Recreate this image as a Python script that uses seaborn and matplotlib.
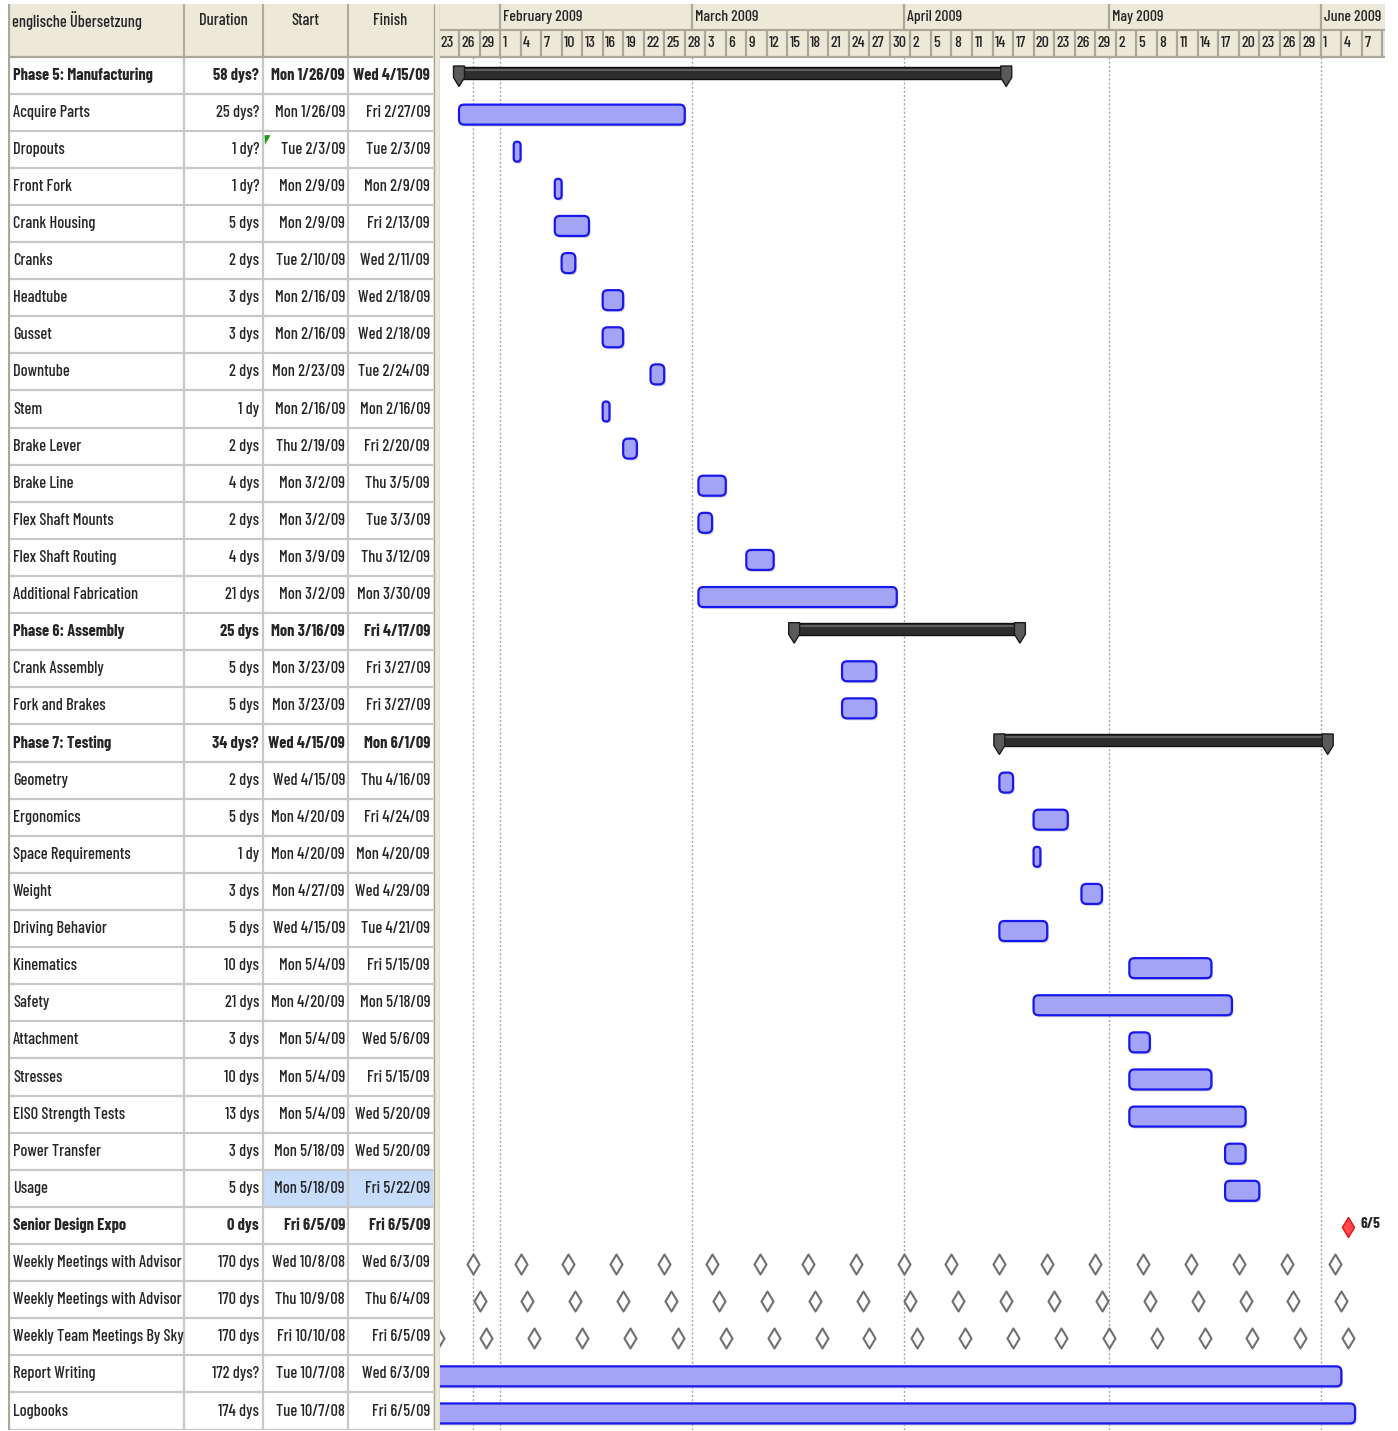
import matplotlib
matplotlib.use("Agg")
import numpy as np
import pandas as pd
import matplotlib.pyplot as plt
import matplotlib.dates as mdates
from matplotlib.patches import FancyBboxPatch, Rectangle, Polygon
import seaborn as sns

sns.set_theme(style="white")
plt.rcParams["font.family"] = ["Barlow Condensed", "Roboto Condensed", "DejaVu Sans"]

# ---------------- schedule data ----------------
task_names = [
    "Phase 5: Manufacturing", "Acquire Parts", "Dropouts", "Front Fork", "Crank Housing",
    "Cranks", "Headtube", "Gusset", "Downtube", "Stem", "Brake Lever", "Brake Line",
    "Flex Shaft Mounts", "Flex Shaft Routing", "Additional Fabrication",
    "Phase 6: Assembly", "Crank Assembly", "Fork and Brakes",
    "Phase 7: Testing", "Geometry", "Ergonomics", "Space Requirements", "Weight",
    "Driving Behavior", "Kinematics", "Safety", "Attachment", "Stresses",
    "EISO Strength Tests", "Power Transfer", "Usage", "Senior Design Expo",
    "Weekly Meetings with Advisor", "Weekly Meetings with Advisor",
    "Weekly Team Meetings By Sky", "Report Writing", "Logbooks",
]
durations = [
    "58 dys?", "25 dys?", "1 dy?", "1 dy?", "5 dys", "2 dys", "3 dys", "3 dys", "2 dys",
    "1 dy", "2 dys", "4 dys", "2 dys", "4 dys", "21 dys", "25 dys", "5 dys", "5 dys",
    "34 dys?", "2 dys", "5 dys", "1 dy", "3 dys", "5 dys", "10 dys", "21 dys", "3 dys",
    "10 dys", "13 dys", "3 dys", "5 dys", "0 dys", "170 dys", "170 dys", "170 dys",
    "172 dys?", "174 dys",
]
start_labels = [
    "Mon 1/26/09", "Mon 1/26/09", "Tue 2/3/09", "Mon 2/9/09", "Mon 2/9/09", "Tue 2/10/09",
    "Mon 2/16/09", "Mon 2/16/09", "Mon 2/23/09", "Mon 2/16/09", "Thu 2/19/09", "Mon 3/2/09",
    "Mon 3/2/09", "Mon 3/9/09", "Mon 3/2/09", "Mon 3/16/09", "Mon 3/23/09", "Mon 3/23/09",
    "Wed 4/15/09", "Wed 4/15/09", "Mon 4/20/09", "Mon 4/20/09", "Mon 4/27/09", "Wed 4/15/09",
    "Mon 5/4/09", "Mon 4/20/09", "Mon 5/4/09", "Mon 5/4/09", "Mon 5/4/09", "Mon 5/18/09",
    "Mon 5/18/09", "Fri 6/5/09", "Wed 10/8/08", "Thu 10/9/08", "Fri 10/10/08",
    "Tue 10/7/08", "Tue 10/7/08",
]
finish_labels = [
    "Wed 4/15/09", "Fri 2/27/09", "Tue 2/3/09", "Mon 2/9/09", "Fri 2/13/09", "Wed 2/11/09",
    "Wed 2/18/09", "Wed 2/18/09", "Tue 2/24/09", "Mon 2/16/09", "Fri 2/20/09", "Thu 3/5/09",
    "Tue 3/3/09", "Thu 3/12/09", "Mon 3/30/09", "Fri 4/17/09", "Fri 3/27/09", "Fri 3/27/09",
    "Mon 6/1/09", "Thu 4/16/09", "Fri 4/24/09", "Mon 4/20/09", "Wed 4/29/09", "Tue 4/21/09",
    "Fri 5/15/09", "Mon 5/18/09", "Wed 5/6/09", "Fri 5/15/09", "Wed 5/20/09", "Wed 5/20/09",
    "Fri 5/22/09", "Fri 6/5/09", "Wed 6/3/09", "Thu 6/4/09", "Fri 6/5/09",
    "Wed 6/3/09", "Fri 6/5/09",
]
summary_rows = [0, 15, 18]
bold_rows = [0, 15, 18, 31]
milestone_rows = [31]
recurring_rows = [32, 33, 34]
selected_row = 30
flagged_row = 2

column_titles = ["englische Übersetzung", "Duration", "Start", "Finish"]
view_start = "2009-01-23"
status_date = "2009-01-28"
milestone_label = "6/5"

# ---------------- colours ----------------
HEADER_BG = "#ECE9D8"
HEADER_LINE = "#ACA899"
GRID = "#C8C8C8"
BAR_FACE = "#A4A4F7"
BAR_EDGE = "#1818EE"
SUMMARY = "#2E2E2E"
FS = 11.8


def parse_label(label):
    return pd.to_datetime(label.split()[1], format="%m/%d/%y")


# ---------------- figure geometry (pixels) ----------------
W, H = 1398, 1431
ROW_H = 37.11
BODY_TOP = 56.5
HEAD_TOP = 4.0
n_rows = len(task_names)
y_head = -(BODY_TOP - HEAD_TOP) / ROW_H
y_mid = -(BODY_TOP - 30.0) / ROW_H
body_bottom = BODY_TOP + n_rows * ROW_H

fig = plt.figure(figsize=(W / 100, H / 100), dpi=100, facecolor="white")


def px_axes(x0, y0, x1, y1):
    return fig.add_axes([x0 / W, 1 - y1 / H, (x1 - x0) / W, (y1 - y0) / H])


# ================= table =================
tab = px_axes(8, HEAD_TOP, 440, body_bottom)
tab.set_xlim(8, 440)
tab.set_ylim(n_rows, y_head)
tab.axis("off")

col_edges = [8, 184, 263, 348, 433]
tab.add_patch(Rectangle((8, y_head), 425, -y_head, facecolor=HEADER_BG, edgecolor="none", zorder=0))
tab.add_patch(Rectangle((433, y_head), 7, n_rows - y_head, facecolor=HEADER_BG,
                        edgecolor="none", zorder=0))
tab.vlines([433.5, 439.5], y_head, n_rows, color=HEADER_LINE, lw=1.0, zorder=3)
tab.add_patch(Rectangle((col_edges[2], selected_row), col_edges[4] - col_edges[2], 1,
                        facecolor="#C6DCFA", edgecolor="none", zorder=0))
tab.hlines(np.arange(1, n_rows + 1), 8, 433, color=GRID, lw=1.6, zorder=1)
tab.hlines(0, 8, 433, color=HEADER_LINE, lw=1.6, zorder=2)
tab.vlines(col_edges[1:4], y_head, n_rows, color=GRID, lw=1.6, zorder=1)
tab.vlines(col_edges[1:4], y_head, 0, color=HEADER_LINE, lw=1.3, zorder=2)
tab.vlines([9], y_head, n_rows, color=HEADER_LINE, lw=1.6, zorder=2)

head_y = y_head + (20 - HEAD_TOP) / ROW_H
tab.text(12, head_y, column_titles[0], ha="left", va="center", fontsize=FS, fontweight="medium")
for title, lo, hi in zip(column_titles[1:], col_edges[1:4], col_edges[2:5]):
    tab.text((lo + hi) / 2, head_y, title, ha="center", va="center", fontsize=FS,
             fontweight="medium")

for i, (name, dur, st, fi) in enumerate(zip(task_names, durations, start_labels, finish_labels)):
    w = "bold" if i in bold_rows else "medium"
    yc = i + 0.5
    tab.text(13, yc, name, ha="left", va="center", fontsize=FS, fontweight=w)
    tab.text(259, yc, dur, ha="right", va="center", fontsize=FS, fontweight=w)
    tab.text(345, yc, st, ha="right", va="center", fontsize=FS, fontweight=w)
    tab.text(430, yc, fi, ha="right", va="center", fontsize=FS, fontweight=w)

# small indicator in the start cell of the flagged task
tab.add_patch(Polygon([(264.5, flagged_row + 0.12), (270.5, flagged_row + 0.12),
                       (265.0, flagged_row + 0.38)], closed=True,
                      facecolor="#1A9A1A", edgecolor="none", zorder=4))

# ================= Gantt chart =================
t0 = mdates.date2num(pd.Timestamp(view_start))
gan = px_axes(440, HEAD_TOP, 1385, body_bottom)
gan.set_xlim(t0 + 0.22, t0 + 138.38)
gan.set_ylim(n_rows, y_head)
gan.axis("off")
x_lo, x_hi = gan.get_xlim()

# timescale header
gan.add_patch(Rectangle((x_lo, y_head), x_hi - x_lo, -y_head, facecolor=HEADER_BG,
                        edgecolor="none", zorder=0))
gan.hlines([y_mid, 0], x_lo, x_hi, color=HEADER_LINE, lw=1.6, zorder=2)

months = pd.date_range("2009-01-01", "2009-07-01", freq="MS")
for m in months:
    mx = mdates.date2num(m)
    gan.vlines(mx, y_head, y_mid, color=HEADER_LINE, lw=1.6, zorder=2)
    if x_lo <= mx < x_hi:
        gan.text(mx + 0.5, (y_head + y_mid) / 2, f"{m:%B %Y}", ha="left", va="center",
                 fontsize=11.3, fontweight="medium", clip_on=True)

day_cells = pd.date_range(view_start, periods=47, freq="3D")
for d in day_cells:
    dx = mdates.date2num(d)
    gan.vlines(dx, y_mid, 0, color=HEADER_LINE, lw=1.6, zorder=2)
    gan.text(dx + 0.35, y_mid / 2, str(d.day), ha="left", va="center", fontsize=11.5,
             fontweight="medium", clip_on=True)

# dotted reference lines through the task area
ref_lines = [mdates.date2num(pd.Timestamp(status_date))] + \
    [mdates.date2num(m) for m in months if m > pd.Timestamp(view_start)]
gan.vlines(ref_lines, 0, n_rows, color="#A8A8A8", lw=1.0, linestyles=(0, (1.5, 1.5)), zorder=1)

# pixel sizes in data units
day_px = 945 / (x_hi - x_lo)
aspect = (1 / ROW_H) / (1 / day_px)


def task_bar(row, start, end):
    top, height = row + 11 / ROW_H, 20 / ROW_H
    width = end - start
    r = min(5 / day_px, width / 2, (20 / day_px) / 2)
    shadow = FancyBboxPatch((start + 1.6 / day_px, top + 2 / ROW_H), width, height,
                            boxstyle=f"round,pad=0,rounding_size={r}",
                            mutation_aspect=aspect, facecolor="#BDBDBD",
                            edgecolor="none", alpha=0.6, zorder=2)
    body = FancyBboxPatch((start, top), width, height,
                          boxstyle=f"round,pad=0,rounding_size={r}",
                          mutation_aspect=aspect, facecolor=BAR_FACE,
                          edgecolor=BAR_EDGE, lw=1.6, zorder=3)
    gan.add_patch(shadow)
    gan.add_patch(body)


def summary_bar(row, start, end):
    top = row + 10 / ROW_H
    gan.add_patch(Rectangle((start, top), end - start, 12 / ROW_H, facecolor=SUMMARY,
                            edgecolor="#111111", lw=1.0, zorder=3))
    gan.hlines(top + 3 / ROW_H, start, end, color="#6A6A6A", lw=1.2, zorder=4)
    hw = 5.5 / day_px
    for x in (start, end):
        cap = [(x - hw, top - 0.5 / ROW_H), (x + hw, top - 0.5 / ROW_H),
               (x + hw, top + 11 / ROW_H), (x, top + 20 / ROW_H), (x - hw, top + 11 / ROW_H)]
        gan.add_patch(Polygon(cap, closed=True, facecolor="#5A5A5A", edgecolor="#1A1A1A",
                              lw=1.0, zorder=5))


recurring_frames = []
for i, (st, fi) in enumerate(zip(start_labels, finish_labels)):
    s = mdates.date2num(parse_label(st))
    f = mdates.date2num(parse_label(fi) + pd.Timedelta(days=1))
    if i in summary_rows:
        summary_bar(i, s, f)
    elif i in milestone_rows:
        gan.scatter([s], [i + 0.54], marker="d", s=104, facecolor="#FF4848",
                    edgecolor="#E01010", lw=1.0, zorder=5)
        gan.text(s + 1.8, i + 0.47, milestone_label, ha="left", va="center",
                 fontsize=11, fontweight="bold")
    elif i in recurring_rows:
        dates = pd.date_range(parse_label(st), parse_label(fi), freq="7D")
        recurring_frames.append(pd.DataFrame({"x": mdates.date2num(dates), "y": i + 0.54}))
    else:
        task_bar(i, s, f)

meetings = pd.concat(recurring_frames, ignore_index=True)
sns.scatterplot(data=meetings, x="x", y="y", marker="d", s=104, color="white",
                edgecolor="#707070", linewidth=1.5, ax=gan, legend=False, zorder=5)
gan.set_xlim(x_lo, x_hi)
gan.set_ylim(n_rows, y_head)
gan.axis("off")

fig.savefig("out.png", dpi=100, facecolor="white")
